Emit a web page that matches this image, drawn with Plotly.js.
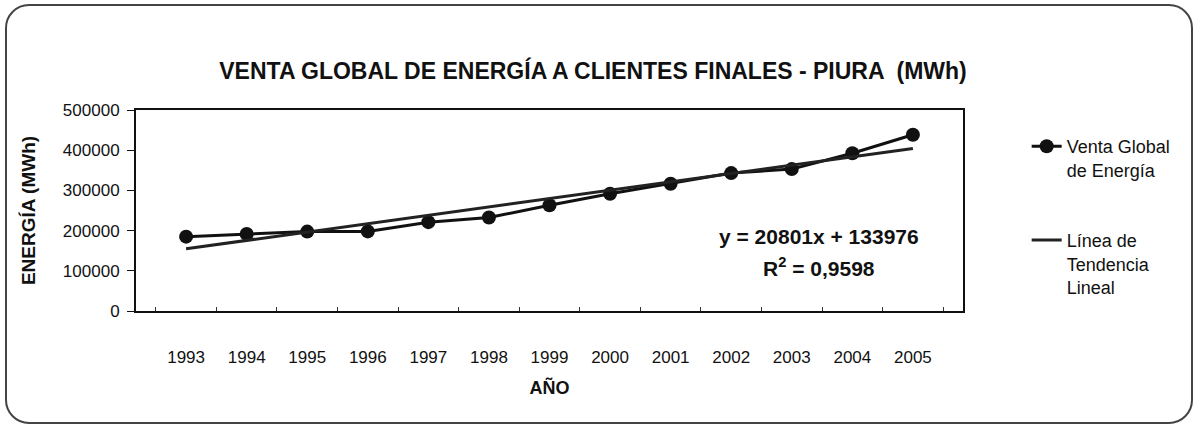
<!DOCTYPE html>
<html>
<head>
<meta charset="utf-8">
<script src="https://cdn.plot.ly/plotly-3.0.1.min.js"></script>
<style>
  html, body { margin: 0; padding: 0; background: #ffffff; }
  #wrap { position: relative; width: 1198px; height: 426px; }
  #chart { width: 1198px; height: 426px; }
  #frame { position: absolute; left: 5px; top: 4px; width: 1184px; height: 416px;
           border: 2px solid #444; border-radius: 24px; pointer-events: none; }
</style>
</head>
<body>
<div id="wrap"><div id="chart"></div><div id="frame"></div></div>
<script>
const years = ["1993","1994","1995","1996","1997","1998","1999","2000","2001","2002","2003","2004","2005"];
const ventaGlobal = [185000, 191500, 197500, 198000, 221000, 232500, 263000, 291500, 316500, 343000, 353000, 392500, 438500];
const tendenciaLineal = [154800, 175600, 196400, 217200, 238000, 258800, 279600, 300400, 321200, 342000, 362800, 383600, 404400];
const ecuacion = "y = 20801x + 133976";
const r2 = "R<sup>2</sup> = 0,9598";

const FONT = "Liberation Sans, Arial, sans-serif";

const traces = [
  {
    x: years, y: ventaGlobal, type: "scatter", mode: "lines+markers",
    name: "Venta Global<br>de Energía", legendgroup: "a",
    line: { color: "#111111", width: 3 },
    marker: { color: "#111111", size: 14, symbol: "circle" }
  },
  {
    x: years, y: tendenciaLineal, type: "scatter", mode: "lines",
    name: "Línea de<br>Tendencia<br>Lineal", legendgroup: "b",
    line: { color: "#222222", width: 3 }
  }
];

const layout = {
  width: 1198, height: 426,
  margin: { l: 136, r: 235, t: 110, b: 115, autoexpand: false },
  paper_bgcolor: "#ffffff", plot_bgcolor: "#ffffff",
  font: { family: FONT, color: "#111111", size: 16 },
  title: {
    text: "<b>VENTA GLOBAL DE ENERGÍA A CLIENTES FINALES - PIURA  (MWh)</b>",
    font: { family: FONT, size: 23, color: "#111111" },
    x: 0.495, xanchor: "center", y: 0.833, yanchor: "middle"
  },
  showlegend: true,
  legend: {
    x: 1.077, xanchor: "left", y: 0.91, yanchor: "top",
    font: { family: FONT, size: 18, color: "#111111" },
    valign: "top", tracegroupgap: 44, traceorder: "grouped",
    bgcolor: "rgba(0,0,0,0)", itemwidth: 30
  },
  xaxis: {
    type: "category",
    showline: true, linecolor: "#111111", linewidth: 2, mirror: true,
    ticks: "inside", ticklen: 4, tickcolor: "#333", tickson: "boundaries",
    showgrid: false, zeroline: false,
    tickfont: { family: FONT, size: 17, color: "#111111" },
    ticklabelstandoff: 30,
    title: { text: "<b>AÑO</b>", font: { family: FONT, size: 18, color: "#111111" }, standoff: 15 },
    automargin: false, fixedrange: true
  },
  yaxis: {
    range: [0, 500000], dtick: 100000, tickformat: "d",
    showline: true, linecolor: "#111111", linewidth: 2, mirror: true,
    ticks: "outside", ticklen: 7, tickcolor: "#111111",
    showgrid: false, zeroline: false,
    tickfont: { family: FONT, size: 17, color: "#111111" },
    ticklabelstandoff: 4,
    title: { text: "<b>ENERGÍA (MWh)</b>", font: { family: FONT, size: 19, color: "#111111" }, standoff: 22 },
    automargin: false, fixedrange: true
  },
  annotations: [
    { xref: "paper", yref: "paper", x: 0.826, y: 0.37, text: "<b>" + ecuacion + "</b>",
      showarrow: false, font: { family: FONT, size: 21, color: "#111111" }, xanchor: "center", yanchor: "middle" },
    { xref: "paper", yref: "paper", x: 0.826, y: 0.22, text: "<b>" + r2 + "</b>",
      showarrow: false, font: { family: FONT, size: 21, color: "#111111" }, xanchor: "center", yanchor: "middle" }
  ]
};

Plotly.newPlot("chart", traces, layout, { staticPlot: true, displayModeBar: false });
</script>
</body>
</html>
